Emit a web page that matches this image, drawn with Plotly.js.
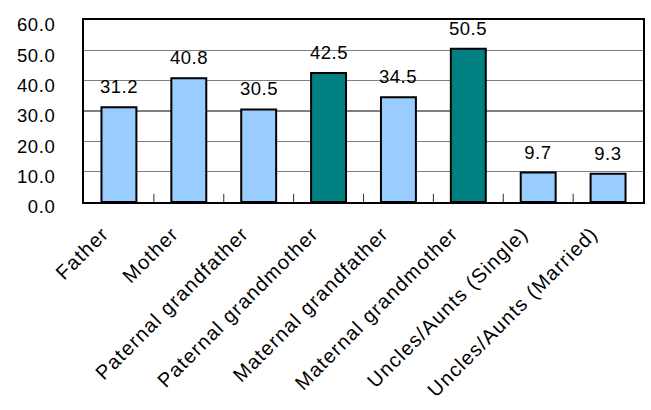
<!DOCTYPE html>
<html>
<head>
<meta charset="utf-8">
<script src="https://cdn.plot.ly/plotly-3.0.1.min.js"></script>
<style>
  html, body { margin: 0; padding: 0; background: #fff; }
  #chart { width: 651px; height: 410px; }
  /* wider tracking for the category and value text */
  #chart .xtick text { letter-spacing: 1.2px; }
  #chart .ytick text { letter-spacing: 0.6px; }
  #chart .annotation-text { letter-spacing: 0.5px; }
</style>
</head>
<body>
<div id="chart"></div>
<script>
// Share of respondents by family member (%)
const categories = [
  "Father",
  "Mother",
  "Paternal grandfather",
  "Paternal grandmother",
  "Maternal grandfather",
  "Maternal grandmother",
  "Uncles/Aunts (Single)",
  "Uncles/Aunts (Married)"
];
const values = [31.2, 40.8, 30.5, 42.5, 34.5, 50.5, 9.7, 9.3];
const highlighted = [false, false, false, true, false, true, false, false];
const yTicks = [0, 10, 20, 30, 40, 50, 60];
const yTickLabels = ["0.0", "10.0", "20.0", "30.0", "40.0", "50.0", "60.0"];

const LIGHT = "#99CCFF";
const TEAL = "#008080";
const FONT = "Liberation Sans, Arial, sans-serif";

const trace = {
  type: "bar",
  x: categories,
  y: values,
  marker: {
    color: highlighted.map(h => (h ? TEAL : LIGHT)),
    line: { color: "#000", width: 2 }
  },
  hoverinfo: "skip"
};

const annotations = categories.map((c, i) => ({
  x: c,
  y: values[i],
  xref: "x",
  yref: "y",
  text: values[i].toFixed(1),
  showarrow: false,
  yanchor: "bottom",
  yshift: 8,
  font: { family: FONT, size: 18.5, color: "#000" }
}));

const layout = {
  width: 651,
  height: 410,
  margin: { l: 84, r: 8, t: 20, b: 208 },
  paper_bgcolor: "#fff",
  plot_bgcolor: "#fff",
  showlegend: false,
  bargap: 0.5,
  font: { family: FONT, size: 18, color: "#000" },
  xaxis: {
    type: "category",
    tickangle: -45,
    tickfont: { family: FONT, size: 20, color: "#000" },
    showline: true,
    linecolor: "#000",
    linewidth: 2,
    mirror: true,
    showgrid: false,
    ticks: "",
    zeroline: false,
    ticklabelstandoff: 10,
    ticklabelshift: -16
  },
  yaxis: {
    range: [0, 60],
    tickvals: yTicks,
    ticktext: yTickLabels,
    tickfont: { family: FONT, size: 18.5, color: "#000" },
    showline: true,
    linecolor: "#000",
    linewidth: 2,
    mirror: true,
    showgrid: true,
    gridcolor: "#808080",
    gridwidth: 1.5,
    zeroline: false,
    ticks: "outside",
    ticklen: 0,
    ticklabelstandoff: 23,
    ticklabelshift: 5
  },
  annotations: annotations,
  shapes: categories.slice(1).map((c, i) => ({
    type: "line",
    xref: "x",
    yref: "paper",
    x0: i + 0.5,
    x1: i + 0.5,
    y0: 0,
    y1: 0.045,
    line: { color: "#333", width: 1 }
  }))
};

Plotly.newPlot("chart", [trace], layout, { staticPlot: true, displayModeBar: false });
</script>
</body>
</html>
